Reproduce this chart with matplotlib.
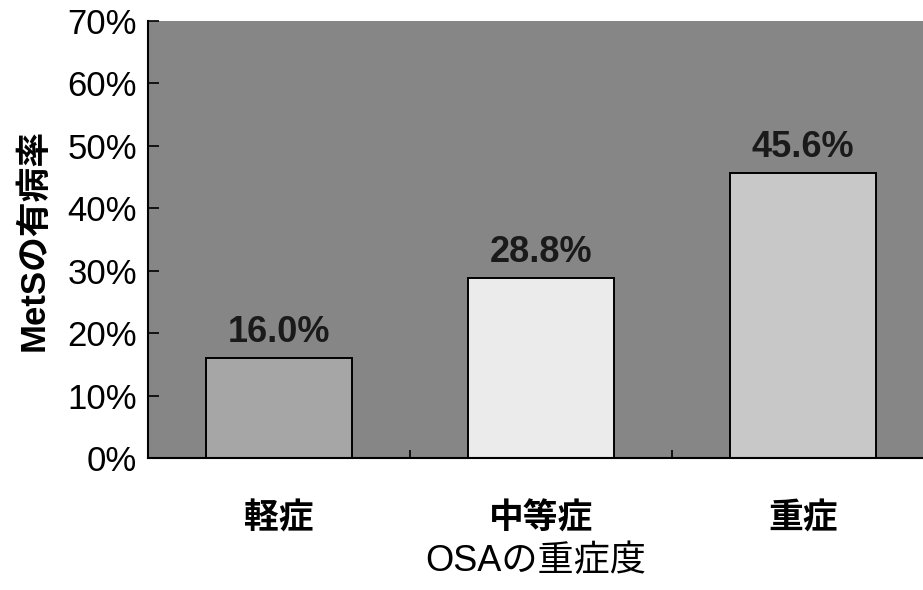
import matplotlib
matplotlib.use("Agg")
import matplotlib.pyplot as plt
from matplotlib.ticker import FixedLocator, PercentFormatter

plt.rcParams['font.family'] = ['Liberation Sans', 'Noto Sans CJK JP']

# OSA severity vs MetS prevalence (%)
severity = ["軽症", "中等症", "重症"]
prevalence = [16.0, 28.8, 45.6]
bar_colors = ["#a6a6a6", "#ebebeb", "#c8c8c8"]

fig = plt.figure(figsize=(9.23, 5.90), dpi=100)
ax = fig.add_axes([0.1603, 0.2237, 0.8397, 0.7407])
ax.set_facecolor("#868686")

x = range(len(severity))
bars = ax.bar(x, prevalence, width=0.56, color=bar_colors,
              edgecolor="black", linewidth=1.4, zorder=2)

for rect, val in zip(bars, prevalence):
    ax.text(rect.get_x() + rect.get_width() / 2, val + 1.3, f"{val:.1f}%",
            ha="center", va="bottom", fontsize=26, fontweight="bold",
            color="#1a1a1a", zorder=3)

ax.set_xlim(-0.5, 2.458)
ax.set_ylim(0, 70)
ax.set_yticks(range(0, 71, 10))
ax.yaxis.set_major_formatter(PercentFormatter(decimals=0))
ax.tick_params(axis="y", direction="in", length=8, width=1.2,
               labelsize=25, pad=8)

ax.set_xticks(list(x))
ax.set_xticklabels(severity, fontsize=25, fontweight="bold")
ax.tick_params(axis="x", which="major", length=0, pad=32)
ax.xaxis.set_minor_locator(FixedLocator([0.5, 1.5]))
ax.tick_params(axis="x", which="minor", direction="in", length=6, width=1.2)

for side in ("top", "right"):
    ax.spines[side].set_visible(False)
for side in ("left", "bottom"):
    ax.spines[side].set_linewidth(1.5)

ax.set_xlabel("OSAの重症度", fontsize=26, labelpad=6)
ax.set_ylabel("MetSの有病率", fontsize=25, fontweight="bold", labelpad=12)

fig.savefig("out.png", dpi=100, facecolor="white")
